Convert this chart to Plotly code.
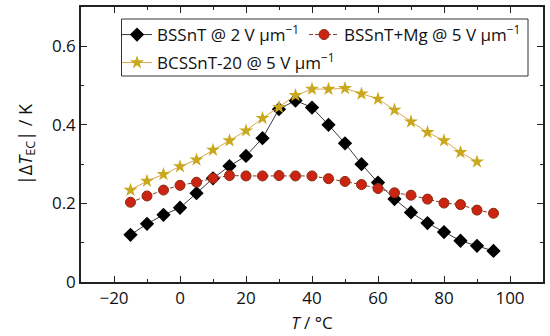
import plotly.graph_objects as go

T_bssnt = [-15, -10, -5, 0, 5, 10, 15, 20, 25, 30, 35, 40, 45, 50, 55, 60, 65, 70, 75, 80, 85, 90, 95]
dT_bssnt = [0.120, 0.148, 0.171, 0.189, 0.226, 0.264, 0.295, 0.321, 0.366, 0.440, 0.462, 0.444, 0.400,
            0.353, 0.300, 0.253, 0.211, 0.177, 0.150, 0.127, 0.105, 0.092, 0.079]

T_mg = [-15, -10, -5, 0, 5, 10, 15, 20, 25, 30, 35, 40, 45, 50, 55, 60, 65, 70, 75, 80, 85, 90, 95]
dT_mg = [0.203, 0.219, 0.234, 0.246, 0.254, 0.264, 0.271, 0.270, 0.270, 0.271, 0.270, 0.270, 0.263,
         0.256, 0.248, 0.238, 0.227, 0.221, 0.211, 0.201, 0.197, 0.183, 0.175]

T_bcssnt = [-15, -10, -5, 0, 5, 10, 15, 20, 25, 30, 35, 40, 45, 50, 55, 60, 65, 70, 75, 80, 85, 90]
dT_bcssnt = [0.234, 0.257, 0.274, 0.294, 0.311, 0.336, 0.360, 0.385, 0.417, 0.445, 0.475, 0.491, 0.491,
             0.493, 0.479, 0.466, 0.438, 0.408, 0.381, 0.360, 0.330, 0.306]

names = ["BSSnT @ 2 V μm<sup>−1</sup>", "BSSnT+Mg @ 5 V μm<sup>−1</sup>", "BCSSnT-20 @ 5 V μm<sup>−1</sup>"]

FONT = "Open Sans"
W, H = 550, 336
ML, MR, MT, MB = 81, 7, 7, 54
PW, PH = W - ML - MR, H - MT - MB


def px_x(p):
    return (p - ML) / PW


def px_y(p):
    return 1 - (p - MT) / PH


fig = go.Figure()
fig.add_trace(go.Scatter(
    x=T_bssnt, y=dT_bssnt, name=names[0], mode="lines+markers", legend="legend",
    line=dict(color="#3a3a3a", width=1),
    marker=dict(symbol="diamond", size=11, color="#000000"),
))
fig.add_trace(go.Scatter(
    x=T_mg, y=dT_mg, name=names[1], mode="lines+markers", legend="legend",
    line=dict(color="#8a3a2a", width=1, dash="4px,2px"),
    marker=dict(symbol="circle", size=10, color="#cc2412", line=dict(color="#8a2a10", width=1)),
))
fig.add_trace(go.Scatter(
    x=T_bcssnt, y=dT_bcssnt, name=names[2], mode="lines+markers", legend="legend2",
    line=dict(color="#d9a850", width=1),
    marker=dict(symbol="star", size=10.5, color="#c9a81e", line=dict(width=0)),
))

axis_common = dict(
    showline=True, linecolor="#222222", linewidth=1.5, mirror="allticks",
    ticks="inside", ticklen=6, tickwidth=1.2, tickcolor="#222222",
    showgrid=False, zeroline=False, automargin=False,
    tickfont=dict(family=FONT, size=17, color="#111111"),
)

fig.update_xaxes(
    range=[-30, 110], tickvals=[-20, 0, 20, 40, 60, 80, 100],
    ticktext=["−20", "0", "20", "40", "60", "80", "100"],
    minor=dict(tickvals=[-10, 10, 30, 50, 70, 90], ticks="inside", ticklen=3, tickwidth=1.2, tickcolor="#222222"),
    title=dict(text="<i>T</i> / °C", font=dict(family=FONT, size=17, color="#111111"), standoff=9),
    **axis_common,
)
fig.update_yaxes(
    range=[0, 0.7], tickvals=[0, 0.2, 0.4, 0.6], ticktext=["0", "0.2", "0.4", "0.6"],
    minor=dict(tickvals=[0.1, 0.3, 0.5], ticks="inside", ticklen=3, tickwidth=1.2, tickcolor="#222222"),
    title=dict(text="|Δ<i>T</i><sub>EC</sub>| / K", font=dict(family=FONT, size=18, color="#111111"), standoff=15),
    **axis_common,
)

leg_common = dict(
    orientation="h", xanchor="left", yanchor="top",
    borderwidth=0, bgcolor="rgba(0,0,0,0)",
    font=dict(family=FONT, size=17, color="#111111"),
    itemwidth=30, tracegroupgap=0,
)

fig.update_layout(
    width=W, height=H,
    margin=dict(l=ML, r=MR, t=MT, b=MB),
    paper_bgcolor="white", plot_bgcolor="white",
    font=dict(family=FONT, size=17, color="#111111"),
    legend=dict(x=px_x(117), y=px_y(17), **leg_common),
    legend2=dict(x=px_x(117), y=px_y(45), **leg_common),
    showlegend=True,
    shapes=[dict(
        type="rect", xref="paper", yref="paper",
        x0=px_x(121.5), x1=px_x(528), y0=px_y(76), y1=px_y(19),
        line=dict(color="#333333", width=1), fillcolor="white", layer="below",
    )],
)

fig.write_html(
    "out.html",
    config={"displayModeBar": False},
    post_script="document.body.style.margin='0';document.body.style.padding='0';",
)
